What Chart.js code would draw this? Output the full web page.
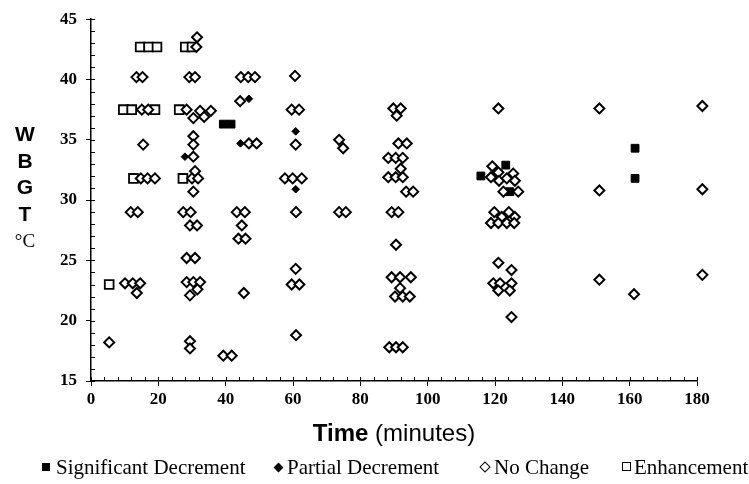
<!DOCTYPE html>
<html>
<head>
<meta charset="utf-8">
<title>WBGT vs Time</title>
<script src="https://cdn.jsdelivr.net/npm/chart.js@4.4.1/dist/chart.umd.min.js"></script>
<style>
  html, body { margin: 0; padding: 0; background: #fff; }
  #wrap { position: relative; width: 749px; height: 484px; overflow: hidden; }
  #yTitle {
    position: absolute; left: 0; top: 121px; width: 50px; text-align: center;
    font: bold 21px 'Liberation Sans', Arial, sans-serif; line-height: 26.5px; color: #000;
  }
  #yTitle .unit { font: normal 19px 'Liberation Serif', 'Times New Roman', serif; }
  #xTitle {
    position: absolute; left: 91px; width: 606px; top: 418px; text-align: center;
    font: 24px 'Liberation Sans', Arial, sans-serif; color: #000; line-height: 30px;
  }
  #xTitle b { font-weight: bold; }
  .leg {
    position: absolute; top: 454px; font: 21px 'Liberation Serif', 'Times New Roman', serif;
    color: #000; line-height: 26px; white-space: nowrap;
  }
  .mk { display: inline-block; position: absolute; top: 9px; }
  .sq-fill { width: 8px; height: 8px; background: #000; }
  .sq-open { width: 7px; height: 7px; border: 1.5px solid #000; top: 8px; }
  .di-fill { width: 7px; height: 7px; background: #000; transform: rotate(45deg); top: 10px; }
  .di-open { width: 6px; height: 6px; border: 1.6px solid #000; transform: rotate(45deg); top: 9px; }
</style>
</head>
<body>
<div id="wrap">
  <canvas id="chart" width="749" height="484"></canvas>
  <div id="yTitle">W<br>B<br>G<br>T<br><span class="unit">°C</span></div>
  <div id="xTitle"><b>Time</b> (minutes)</div>
  <div class="leg" style="left:42px;"><span class="mk sq-fill" style="left:0;"></span><span style="margin-left:14px;">Significant Decrement</span></div>
  <div class="leg" style="left:274px;"><span class="mk di-fill" style="left:1px;"></span><span style="margin-left:13px;">Partial Decrement</span></div>
  <div class="leg" style="left:480px;"><span class="mk di-open" style="left:1px;"></span><span style="margin-left:14px;">No Change</span></div>
  <div class="leg" style="left:622px;"><span class="mk sq-open" style="left:0;"></span><span style="margin-left:12px;">Enhancement</span></div>
</div>
<script>
// axis setup
const X_MIN = 0, X_MAX = 180, X_STEP = 20, X_MINOR = 4;
const Y_MIN = 15, Y_MAX = 45, Y_STEP = 5, Y_MINOR = 1;

// Significant Decrement (filled squares)
const sigX = [39.3, 41.6, 115.8, 123.2, 124.4, 161.6, 161.6];
const sigY = [36.3, 36.3, 32.0, 32.9, 30.7, 34.3, 31.8];

// Partial Decrement (filled diamonds)
const partX = [46.9, 44.4, 27.9, 60.8, 60.8];
const partY = [38.4, 34.7, 33.6, 35.7, 30.9];

// No Change (open diamonds)
const noChgX = [
  5.4,
  13.5, 15.3, 15.1, 17.0, 15.5, 14.8, 16.8, 19.0, 11.8, 13.9, 10.1, 12.4, 14.6, 13.6,
  31.5, 31.3, 29.2, 30.9, 28.4, 30.4, 32.4, 33.6, 35.6, 30.4, 30.4, 30.4, 30.0, 30.9, 31.8, 30.4,
  27.4, 29.6, 29.4, 31.5, 28.4, 30.9, 28.4, 30.4, 32.4, 31.6, 29.4, 29.4, 29.4,
  44.5, 46.7, 48.7, 44.3, 46.9, 49.2, 43.3, 45.7, 44.8, 43.8, 45.9, 45.4, 39.3, 41.8,
  60.6, 59.6, 61.8, 60.8, 57.6, 59.9, 62.6, 60.9, 60.8, 59.6, 61.9, 60.9,
  73.7, 74.9, 73.7, 75.7,
  89.8, 92.0, 90.8, 91.3, 93.8, 88.3, 90.5, 92.6, 92.0, 88.3, 90.5, 92.6, 93.6, 95.7,
  89.3, 91.3, 90.6, 89.3, 91.8, 95.0, 91.8, 90.3, 92.6, 94.7, 88.6, 90.6, 92.6,
  121.0, 119.2, 121.0, 118.8, 121.2, 123.5, 125.4, 125.9, 122.5, 126.9,
  119.8, 124.1, 122.0, 125.9, 118.8, 121.0, 123.5, 125.7,
  121.0, 124.9, 119.5, 121.5, 124.9, 121.0, 124.4, 124.9,
  151.0, 151.0, 151.0, 161.3, 181.6, 181.6, 181.6
];
const noChgY = [
  18.2,
  40.2, 40.2, 37.5, 37.5, 34.6, 31.8, 31.8, 31.8, 29.0, 29.0, 23.1, 23.1, 23.1, 22.3,
  43.5, 42.7, 40.2, 40.2, 37.5, 36.8, 37.4, 36.9, 37.4, 35.3, 34.6, 33.6, 31.8, 32.4, 31.8, 30.7,
  29.0, 29.0, 27.9, 27.9, 25.2, 25.2, 23.2, 23.2, 23.2, 22.6, 22.1, 18.3, 17.7,
  40.2, 40.2, 40.2, 38.2, 34.7, 34.7, 29.0, 29.0, 27.9, 26.8, 26.8, 22.3, 17.1, 17.1,
  40.3, 37.5, 37.5, 34.6, 31.8, 31.8, 31.8, 29.0, 24.3, 23.0, 23.0, 18.8,
  35.0, 34.3, 29.0, 29.0,
  37.6, 37.6, 37.0, 34.7, 34.7, 33.5, 33.5, 33.5, 32.6, 31.9, 31.9, 31.9, 30.7, 30.7,
  29.0, 29.0, 26.3, 23.6, 23.6, 23.6, 22.7, 22.0, 22.0, 22.0, 17.8, 17.8, 17.8,
  37.6, 32.8, 32.3, 31.9, 31.6, 31.8, 32.2, 31.6, 30.7, 30.7,
  29.0, 29.0, 28.6, 28.6, 28.1, 28.1, 28.1, 28.1,
  24.8, 24.2, 23.1, 23.1, 23.1, 22.5, 22.5, 20.3,
  37.6, 30.8, 23.4, 22.2, 37.8, 30.9, 23.8
];

// Enhancement (open squares)
const enhX = [14.6, 17.1, 19.6, 28.0, 30.0, 9.6, 12.1, 19.0, 26.2, 12.6, 27.3, 5.4];
const enhY = [42.7, 42.7, 42.7, 42.7, 42.7, 37.5, 37.5, 37.5, 37.5, 31.8, 31.8, 23.0];

function pts(xs, ys) {
  return xs.map((x, i) => ({ x: x, y: ys[i] }));
}

// minor ticks point inwards, like the original spreadsheet chart
const minorTicks = {
  id: 'minorTicks',
  afterDraw(chart) {
    const { ctx, chartArea } = chart;
    const xs = chart.scales.x, ys = chart.scales.y;
    ctx.save();
    ctx.strokeStyle = '#000';
    ctx.lineWidth = 1;
    ctx.beginPath();
    for (let v = Y_MIN; v <= Y_MAX; v += Y_MINOR) {
      const py = Math.round(ys.getPixelForValue(v)) + 0.5;
      ctx.moveTo(chartArea.left, py);
      ctx.lineTo(chartArea.left + 4, py);
    }
    for (let v = X_MIN; v <= X_MAX; v += X_MINOR) {
      const px = Math.round(xs.getPixelForValue(v)) + 0.5;
      ctx.moveTo(px, chartArea.bottom);
      ctx.lineTo(px, chartArea.bottom - 4);
    }
    ctx.stroke();
    ctx.restore();
  }
};

const tickFont = { family: "'Liberation Serif', 'Times New Roman', serif", size: 17, weight: 'bold' };

new Chart(document.getElementById('chart').getContext('2d'), {
  type: 'scatter',
  data: {
    datasets: [
      {
        label: 'No Change',
        data: pts(noChgX, noChgY),
        pointStyle: 'rectRot',
        pointRadius: 5,
        backgroundColor: '#fff',
        borderColor: '#000',
        borderWidth: 2,
        clip: false
      },
      {
        label: 'Enhancement',
        data: pts(enhX, enhY),
        pointStyle: 'rect',
        pointRadius: 6.2,
        backgroundColor: '#fff',
        borderColor: '#000',
        borderWidth: 1.8,
        clip: false
      },
      {
        label: 'Significant Decrement',
        data: pts(sigX, sigY),
        pointStyle: 'rect',
        pointRadius: 5.5,
        backgroundColor: '#000',
        borderColor: '#000',
        borderWidth: 1,
        clip: false
      },
      {
        label: 'Partial Decrement',
        data: pts(partX, partY),
        pointStyle: 'rectRot',
        pointRadius: 3.8,
        backgroundColor: '#000',
        borderColor: '#000',
        borderWidth: 1,
        clip: false
      }
    ]
  },
  options: {
    responsive: false,
    animation: false,
    layout: { padding: { top: 15, right: 52, left: 0, bottom: 0 } },
    plugins: {
      legend: { display: false },
      tooltip: { enabled: false }
    },
    scales: {
      x: {
        type: 'linear',
        min: X_MIN,
        max: X_MAX,
        afterFit: s => { s.height = 103; },
        ticks: { stepSize: X_STEP, color: '#000', font: tickFont, padding: 3, maxRotation: 0 },
        grid: { drawOnChartArea: false, drawTicks: true, tickLength: 5, color: '#000', lineWidth: 1 },
        border: { color: '#000', width: 1.5 }
      },
      y: {
        type: 'linear',
        min: Y_MIN,
        max: Y_MAX,
        afterFit: s => { s.width = 91; },
        ticks: { stepSize: Y_STEP, color: '#000', font: tickFont, padding: 9 },
        grid: { drawOnChartArea: false, drawTicks: true, tickLength: 5, color: '#000', lineWidth: 1 },
        border: { color: '#000', width: 1.5 }
      }
    }
  },
  plugins: [minorTicks]
});
</script>
</body>
</html>
